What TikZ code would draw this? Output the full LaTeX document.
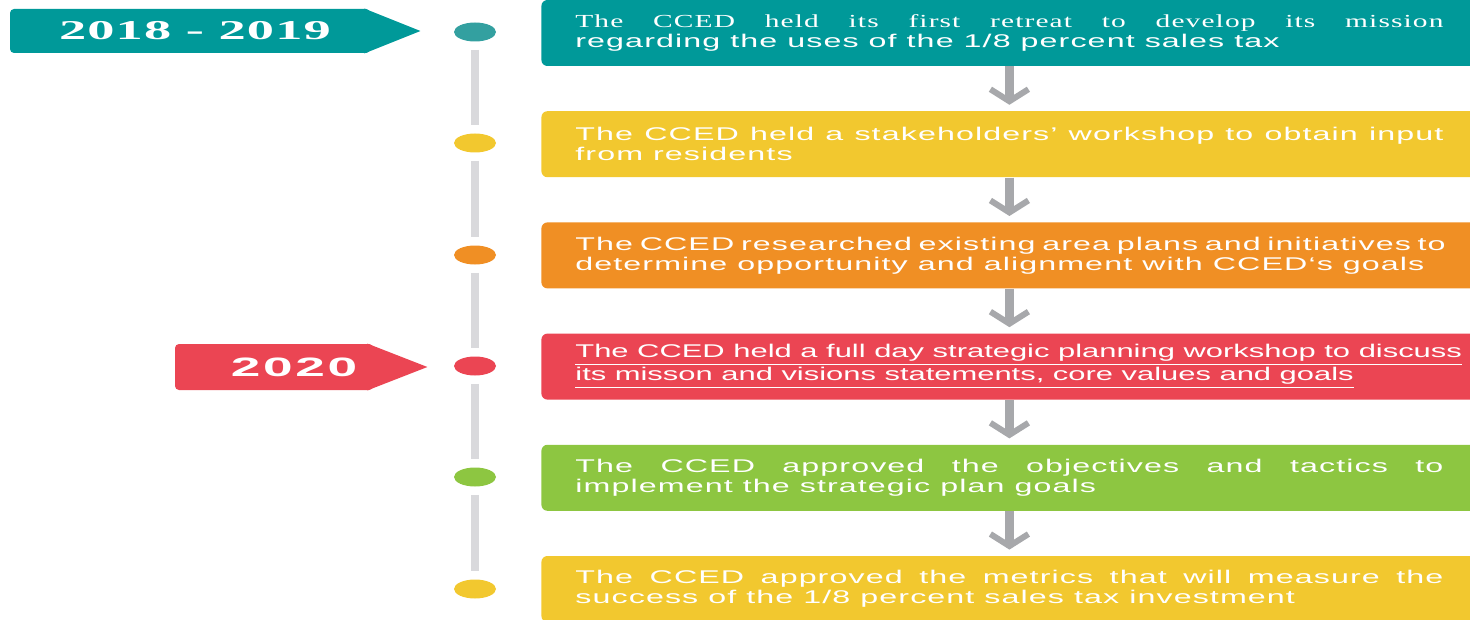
\documentclass[tikz,border=0pt]{standalone}
\usepackage{fontspec}
\usepackage{xcolor}
\setmainfont{Liberation Sans}
\newfontfamily\stepfont[FakeStretch=1.75,LetterSpace=6]{Liberation Sans}
\newfontfamily\stepserif[FakeStretch=1.6,LetterSpace=6]{Liberation Serif}
\newfontfamily\tightfont[FakeStretch=1.68]{Liberation Sans}
\newfontfamily\yearserif[FakeStretch=2.0,LetterSpace=4]{Liberation Serif}
\newfontfamily\yearsans[FakeStretch=2.0,LetterSpace=10]{Liberation Sans}
\usetikzlibrary{arrows.meta,shapes.geometric}
\definecolor{cctealbox}{RGB}{0,153,153}
\definecolor{cctealdot}{RGB}{51,160,160}
\definecolor{ccyellow}{RGB}{242,200,47}
\definecolor{ccorange}{RGB}{240,143,36}
\definecolor{ccred}{RGB}{235,69,83}
\definecolor{ccgreen}{RGB}{141,198,65}
\definecolor{railgray}{RGB}{217,217,220}
\definecolor{arrowgray}{RGB}{167,168,171}

\begin{document}
\begin{tikzpicture}[
    x=0.5pt, y=-0.5pt,
    stepbox/.style={rectangle,rounded corners=3pt,anchor=west,text width=434pt,
      inner xsep=17pt,inner ysep=0pt,minimum height=33pt,align=justify,text=white,
      font=\stepfont\fontsize{9.2}{10}\selectfont},
    tlmark/.style={ellipse,minimum width=21pt,minimum height=9.5pt,inner sep=0pt},
    rail/.style={draw=railgray,line width=4.2pt,shorten <=4pt,shorten >=4pt},
    flowarrow/.style={draw=arrowgray,line width=4.5pt,shorten >=3pt,
      -{Straight Barb[length=6pt,width=19pt,line width=3pt]}},
    yearflag/.style={rectangle,rounded corners=2pt,text=white,inner sep=0pt,minimum height=22pt}
  ]
    \useasboundingbox (0,0) rectangle (1470,620);

    % steps
    \node[stepbox,fill=cctealbox] (s1) at (541,33)
      {{\stepserif The CCED held its first retreat to develop its mission}\linebreak
       regarding the uses of the 1/8 percent sales tax};
    \node[stepbox,fill=ccyellow] (s2) at (541,144.2)
      {The CCED held a stakeholders’ workshop to obtain input\linebreak from residents};
    \node[stepbox,fill=ccorange] (s3) at (541,255.4)
      {The CCED researched existing area plans and initiatives to\linebreak
       determine opportunity and alignment with CCED‘s goals};
    \node[stepbox,fill=ccred,font=\tightfont\fontsize{9.2}{10}\selectfont] (s4) at (541,366.6)
      {\underline{The CCED held a full day strategic planning workshop to discuss}\newline
       \underline{its misson and visions statements, core values and goals}};
    \node[stepbox,fill=ccgreen] (s5) at (541,477.8)
      {The CCED approved the objectives and tactics to\linebreak implement the strategic plan goals};
    \node[stepbox,fill=ccyellow] (s6) at (541,589)
      {The CCED approved the metrics that will measure the\linebreak
       success of the 1/8 percent sales tax investment};

    \draw[flowarrow] (s1) -- (s2);
    \draw[flowarrow] (s2) -- (s3);
    \draw[flowarrow] (s3) -- (s4);
    \draw[flowarrow] (s4) -- (s5);
    \draw[flowarrow] (s5) -- (s6);

    % timeline
    \node[tlmark,fill=cctealdot] (d1) at (475,32) {};
    \node[tlmark,fill=ccyellow] (d2) at (475,143) {};
    \node[tlmark,fill=ccorange] (d3) at (475,255) {};
    \node[tlmark,fill=ccred] (d4) at (475,366) {};
    \node[tlmark,fill=ccgreen] (d5) at (475,477) {};
    \node[tlmark,fill=ccyellow] (d6) at (475,589) {};

    \draw[rail] (d1) -- (d2);
    \draw[rail] (d2) -- (d3);
    \draw[rail] (d3) -- (d4);
    \draw[rail] (d4) -- (d5);
    \draw[rail] (d5) -- (d6);

    % year flags
    \node[yearflag,fill=cctealbox,minimum width=180pt,font=\yearserif\bfseries\fontsize{13.6}{14}\selectfont]
      (yr1) at (190,31) {\hspace*{5pt}2018 - 2019};
    \fill[cctealbox] ([xshift=-3pt]yr1.north east) -- ([xshift=25pt]yr1.east)
      -- ([xshift=-3pt]yr1.south east) -- cycle;
    \node[yearflag,fill=ccred,minimum width=99pt,minimum height=23pt,
      font=\yearsans\bfseries\fontsize{13.3}{14}\selectfont]
      (yr2) at (274,367) {\hspace*{20pt}2020};
    \fill[ccred] ([xshift=-3pt]yr2.north east) -- ([xshift=27pt]yr2.east)
      -- ([xshift=-3pt]yr2.south east) -- cycle;
\end{tikzpicture}
\end{document}
